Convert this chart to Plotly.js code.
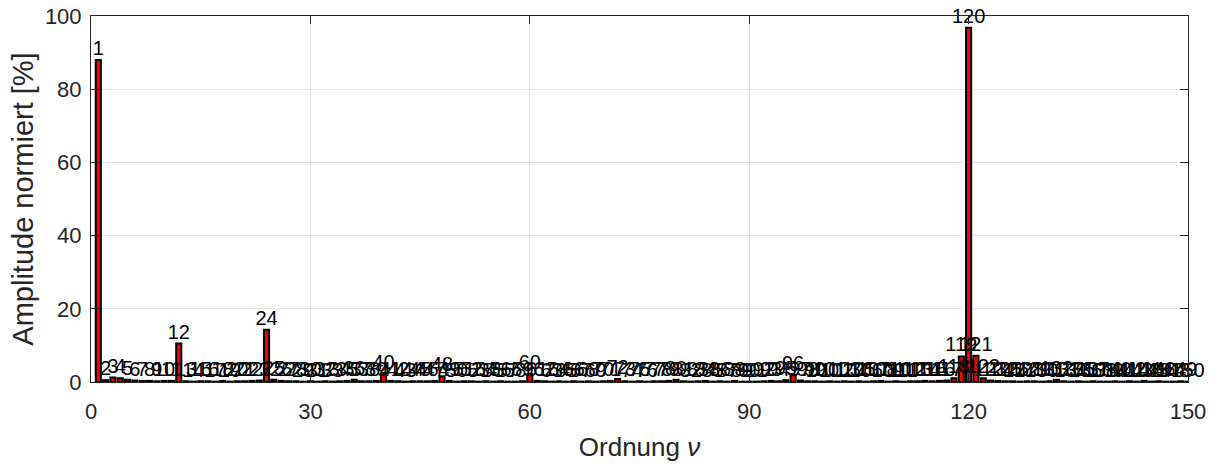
<!DOCTYPE html>
<html>
<head>
<meta charset="utf-8">
<script src="https://cdn.plot.ly/plotly-3.0.1.min.js"></script>
<style>html,body{margin:0;padding:0;background:#fff;}#chart{width:1224px;height:472px;}</style>
</head>
<body>
<div id="chart"></div>
<script>
// Orders 1..150
const orders = [];
for (let i = 1; i <= 150; i++) orders.push(i);

// Normalized amplitudes [%] (orders 1..150)
const amplitudes = [
  88.0, 0.5, 1.2, 1.0, 0.6, 0.4, 0.3, 0.3, 0.2, 0.3,   // 1-10
  0.3, 10.5, 0.2, 0.1, 0.2, 0.2, 0.1, 0.3, 0.1, 0.2,   // 11-20
  0.2, 0.3, 0.4, 14.3, 0.6, 0.3, 0.2, 0.2, 0.1, 0.2,   // 21-30
  0.1, 0.2, 0.1, 0.2, 0.3, 0.6, 0.2, 0.2, 0.3, 2.2,    // 31-40
  0.3, 0.2, 0.1, 0.2, 0.2, 0.2, 0.3, 1.6, 0.3, 0.1,    // 41-50
  0.2, 0.2, 0.1, 0.2, 0.1, 0.2, 0.1, 0.1, 0.2, 2.2,    // 51-60
  0.3, 0.2, 0.1, 0.2, 0.1, 0.2, 0.1, 0.2, 0.1, 0.2,    // 61-70
  0.3, 0.8, 0.2, 0.1, 0.2, 0.1, 0.2, 0.2, 0.3, 0.6,    // 71-80
  0.2, 0.1, 0.2, 0.3, 0.1, 0.2, 0.1, 0.3, 0.1, 0.1,    // 81-90
  0.1, 0.2, 0.3, 0.2, 0.5, 2.0, 0.4, 0.2, 0.2, 0.1,    // 91-100
  0.2, 0.1, 0.2, 0.1, 0.2, 0.1, 0.2, 0.3, 0.1, 0.2,    // 101-110
  0.1, 0.2, 0.2, 0.3, 0.2, 0.3, 0.4, 1.0, 7.0, 96.8,   // 111-120
  7.2, 1.0, 0.4, 0.3, 0.2, 0.2, 0.1, 0.2, 0.2, 0.1,    // 121-130
  0.2, 0.6, 0.2, 0.1, 0.2, 0.1, 0.2, 0.1, 0.1, 0.2,    // 131-140
  0.1, 0.2, 0.1, 0.3, 0.1, 0.2, 0.1, 0.1, 0.2, 0.1     // 141-150
];

const xTickVals = [0, 30, 60, 90, 120, 150];
const yTickVals = [0, 20, 40, 60, 80, 100];
const labels = orders.map(String);

const font = '"Liberation Sans", Arial, Helvetica, sans-serif';

const bars = {
  type: 'bar',
  x: orders,
  y: amplitudes,
  width: 0.7,
  marker: { color: '#ff0000', line: { color: '#000000', width: 2 } },
  hoverinfo: 'x+y'
};

const textTrace = {
  type: 'scatter',
  mode: 'text',
  x: orders,
  y: amplitudes,
  text: labels,
  textposition: 'top center',
  textfont: { family: font, size: 20, color: '#000000' },
  cliponaxis: false,
  hoverinfo: 'skip'
};

const layout = {
  width: 1224,
  height: 472,
  margin: { l: 91, r: 36, t: 16, b: 90, pad: 0 },
  paper_bgcolor: '#ffffff',
  plot_bgcolor: '#ffffff',
  showlegend: false,
  xaxis: {
    range: [0, 150],
    tickvals: xTickVals,
    ticktext: xTickVals.map(String),
    ticks: 'inside',
    ticklen: 8,
    tickcolor: '#262626',
    showline: true,
    linecolor: '#262626',
    linewidth: 1,
    mirror: 'ticks',
    showgrid: true,
    gridcolor: '#e3e3e3',
    zeroline: false,
    ticklabelstandoff: 10,
    tickfont: { family: font, size: 22, color: '#262626' },
    title: { text: 'Ordnung <i>ν</i>', font: { family: font, size: 26, color: '#262626' }, standoff: 14 }
  },
  yaxis: {
    range: [0, 100],
    tickvals: yTickVals,
    ticks: 'inside',
    ticklen: 8,
    tickcolor: '#262626',
    showline: true,
    linecolor: '#262626',
    linewidth: 1,
    mirror: 'ticks',
    showgrid: true,
    gridcolor: '#e3e3e3',
    zeroline: false,
    ticklabelstandoff: 4,
    tickfont: { family: font, size: 22, color: '#262626' },
    title: { text: 'Amplitude normiert [%]', font: { family: font, size: 29, color: '#262626' }, standoff: 2 }
  }
};

Plotly.newPlot('chart', [bars, textTrace], layout, { displayModeBar: false, staticPlot: true });
</script>
</body>
</html>
